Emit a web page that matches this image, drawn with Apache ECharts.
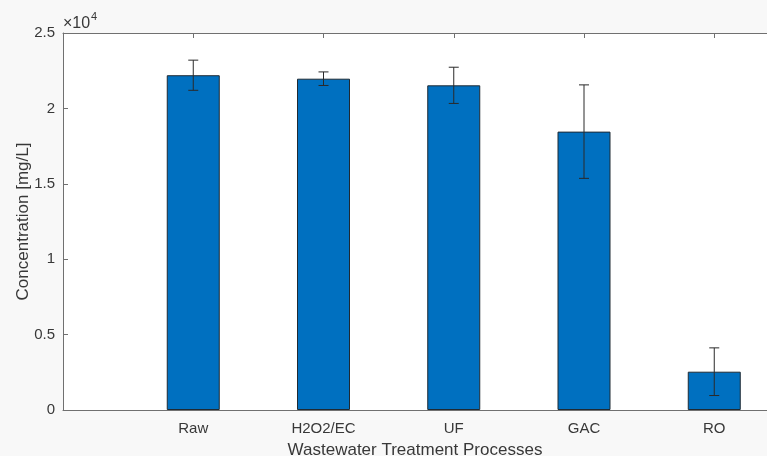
<!DOCTYPE html>
<html>
<head>
<meta charset="utf-8">
<script src="https://cdn.jsdelivr.net/npm/echarts@6/dist/echarts.min.js"></script>
<style>
html,body{margin:0;padding:0;background:#f8f8f8;overflow:hidden;}
#c{width:767px;height:456px;}
</style>
</head>
<body>
<div id="c"></div>
<script>
const categories = ['Raw', 'H2O2/EC', 'UF', 'GAC', 'RO'];
const means = [22200, 21970, 21530, 18460, 2540];
const errors = [1000, 450, 1200, 3100, 1580];
const yTicks = [0, 5000, 10000, 15000, 20000, 25000];

const positions = categories.map((c, i) => i + 1);
const barData = means.map((m, i) => [positions[i], m]);
const errData = means.map((m, i) => [positions[i], m, errors[i]]);

const txt = '#383838';
const lineCol = '#707070';
const font = 'Liberation Sans, Arial, Helvetica, sans-serif';

// visible x range: 0 .. (plot width / one category step)
const xMax = 704 / 130.25;

const chart = echarts.init(document.getElementById('c'));
chart.setOption({
  backgroundColor: '#f8f8f8',
  animation: false,
  grid: { left: 63, top: 33, bottom: 46, right: 0, outerBoundsMode: 'none', containLabel: false,
    show: true, backgroundColor: '#ffffff', borderWidth: 0 },
  xAxis: [{
    type: 'value',
    min: 0,
    max: xMax,
    position: 'bottom',
    axisLine: { show: true, onZero: false, lineStyle: { color: lineCol, width: 1 } },
    axisTick: { show: true, inside: true, length: 5, lineStyle: { color: lineCol }, customValues: positions },
    axisLabel: { show: true, color: txt, fontSize: 15, fontFamily: font, margin: 11,
      customValues: positions,
      formatter: (v) => categories[Math.round(v) - 1] || '' },
    name: 'Wastewater Treatment Processes',
    nameLocation: 'middle',
    nameGap: 32,
    nameMoveOverlap: false,
    nameTextStyle: { color: txt, fontSize: 17, fontFamily: font },
    splitLine: { show: false }
  }, {
    type: 'value',
    min: 0,
    max: xMax,
    position: 'top',
    axisLine: { show: true, onZero: false, lineStyle: { color: lineCol, width: 1 } },
    axisTick: { show: true, inside: true, length: 5, lineStyle: { color: lineCol }, customValues: positions },
    axisLabel: { show: false },
    splitLine: { show: false }
  }],
  yAxis: {
    type: 'value',
    min: yTicks[0],
    max: yTicks[yTicks.length - 1],
    interval: 5000,
    axisLine: { show: true, lineStyle: { color: lineCol, width: 1 } },
    axisTick: { show: true, inside: true, length: 5, lineStyle: { color: lineCol } },
    axisLabel: { color: txt, fontSize: 15, fontFamily: font, margin: 8,
      formatter: (v) => String(v / 10000) },
    splitLine: { show: false },
    name: 'Concentration [mg/L]',
    nameLocation: 'middle',
    nameGap: 31,
    nameMoveOverlap: false,
    nameTextStyle: { color: txt, fontSize: 17, fontFamily: font }
  },
  graphic: [
    { type: 'text', left: 63, top: 16, style: { text: '×10', fill: txt, fontSize: 16, fontFamily: font } },
    { type: 'text', left: 91, top: 11, style: { text: '4', fill: txt, fontSize: 11, fontFamily: font } }
  ],
  series: [{
    type: 'bar',
    xAxisIndex: 0,
    data: barData,
    barWidth: 53,
    itemStyle: { color: '#0070c0', borderColor: '#1f2a33', borderWidth: 1 }
  }, {
    type: 'custom',
    xAxisIndex: 0,
    data: errData,
    z: 10,
    renderItem: function (params, api) {
      const x = api.value(0), m = api.value(1), e = api.value(2);
      const top = api.coord([x, m + e]);
      const bot = api.coord([x, m - e]);
      const cw = 5;
      const st = { stroke: '#2a2a2a', lineWidth: 1 };
      return {
        type: 'group',
        children: [
          { type: 'line', shape: { x1: top[0], y1: top[1], x2: bot[0], y2: bot[1] }, style: st },
          { type: 'line', shape: { x1: top[0] - cw, y1: top[1], x2: top[0] + cw, y2: top[1] }, style: st },
          { type: 'line', shape: { x1: bot[0] - cw, y1: bot[1], x2: bot[0] + cw, y2: bot[1] }, style: st }
        ]
      };
    }
  }]
});
</script>
</body>
</html>
